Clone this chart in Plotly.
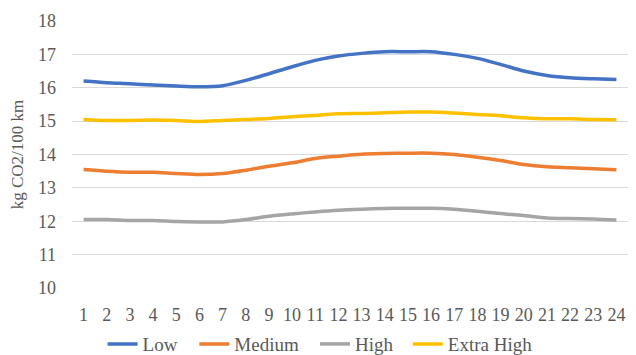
import plotly.graph_objects as go

hours = [str(h) for h in range(1, 25)]

low = [16.20, 16.15, 16.12, 16.08, 16.05, 16.03, 16.06, 16.22, 16.42, 16.63, 16.82, 16.95,
       17.03, 17.08, 17.08, 17.08, 17.00, 16.88, 16.70, 16.50, 16.37, 16.30, 16.27, 16.25]
medium = [13.55, 13.50, 13.47, 13.47, 13.43, 13.40, 13.43, 13.53, 13.65, 13.75, 13.88, 13.95,
          14.01, 14.03, 14.04, 14.04, 14.00, 13.92, 13.82, 13.70, 13.63, 13.60, 13.57, 13.54]
high = [12.05, 12.05, 12.02, 12.02, 11.99, 11.98, 11.98, 12.05, 12.15, 12.22, 12.28, 12.33,
        12.36, 12.38, 12.39, 12.39, 12.36, 12.30, 12.23, 12.17, 12.10, 12.08, 12.07, 12.04]
extra_high = [15.05, 15.02, 15.02, 15.03, 15.02, 14.99, 15.02, 15.05, 15.08, 15.13, 15.17, 15.22,
              15.23, 15.25, 15.27, 15.27, 15.24, 15.20, 15.16, 15.10, 15.07, 15.07, 15.05, 15.04]

series = [
    ("Low", low, "#4472C4"),
    ("Medium", medium, "#ED7D31"),
    ("High", high, "#A5A5A5"),
    ("Extra High", extra_high, "#FFC000"),
]

# each series gets its own one-entry legend so the entries can be spaced freely
legend_ids = ["legend", "legend2", "legend3", "legend4"]
legend_x = [0.055, 0.22, 0.437, 0.604]

serif = "Liberation Serif"
grey = "#595959"

fig = go.Figure()
for (name, vals, color), lid in zip(series, legend_ids):
    fig.add_trace(go.Scatter(
        x=hours, y=vals, name=name, mode="lines", legend=lid,
        line=dict(color=color, width=3.5, shape="spline", smoothing=0.8),
    ))

legend_style = dict(orientation="h", xanchor="left", y=-0.21, yanchor="middle",
                    font=dict(family=serif, size=19, color=grey),
                    itemwidth=30, bgcolor="rgba(0,0,0,0)")
fig.update_layout(**{lid: dict(x=lx, **legend_style) for lid, lx in zip(legend_ids, legend_x)})

fig.update_layout(
    width=636, height=355,
    margin=dict(l=72, r=8, t=21, b=67, autoexpand=False),
    paper_bgcolor="white", plot_bgcolor="white",
    font=dict(family=serif, color=grey, size=18),
    showlegend=True,
    xaxis=dict(type="category", range=[-0.5, 23.5], showgrid=False, showline=False,
               ticks="", ticklabelstandoff=14,
               tickfont=dict(family=serif, size=18, color=grey)),
    yaxis=dict(range=[10, 18], dtick=1, showgrid=True, gridcolor="#D9D9D9", gridwidth=1,
               zeroline=False, showline=False, ticks="", ticklabelstandoff=15,
               tickfont=dict(family=serif, size=18, color=grey),
               title=dict(text="kg CO2/100 km", font=dict(family=serif, size=17, color=grey),
                          standoff=10)),
)

fig.write_html("out.html")
